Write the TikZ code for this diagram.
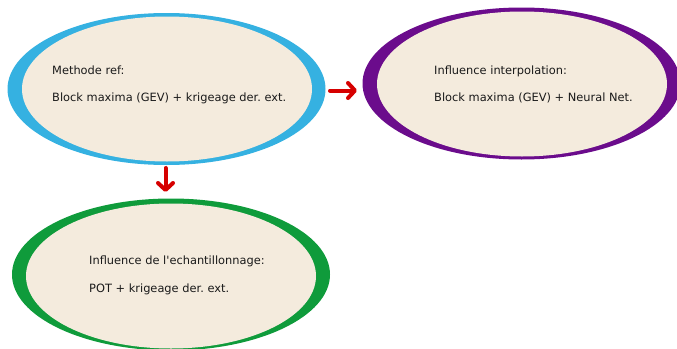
\documentclass[tikz,border=0pt]{standalone}
\usepackage{fontspec}
\setmainfont{DejaVu Sans}[Ligatures=TeXOff]
\frenchspacing
\usetikzlibrary{shapes.geometric,arrows.meta}
\definecolor{beige}{HTML}{F4EBDD}
\definecolor{cblue}{HTML}{35B1E1}
\definecolor{cpurple}{HTML}{6B0C8C}
\definecolor{cgreen}{HTML}{0F9B3B}
\definecolor{cred}{HTML}{D60000}
\definecolor{ctext}{HTML}{1A1A1A}
\tikzset{
  ring/.style={ellipse, inner sep=0pt, minimum width=318pt, minimum height=152pt},
  core/.style={ellipse, inner sep=0pt, fill=beige, minimum width=290pt, minimum height=145pt},
  lbl/.style={anchor=base west, inner sep=0pt, text=ctext, font=\fontsize{11.4}{13}\selectfont},
  arr/.style={draw=cred, line width=4pt, line cap=round, line join=round,
    -{Straight Barb[length=7pt, width=15pt, line cap=round, line join=round]}}
}
\begin{document}
\begin{tikzpicture}[x=1pt,y=-1pt]
\useasboundingbox (0,0) rectangle (677,348);
\begin{scope}
\clip (0,0) rectangle (677,348);
% rings
\node[ring, fill=cblue] (a) at (166.5,89) {};
\node[core] (ai) at (167,89) {};
\node[ring, fill=cpurple] (b) at (521.5,83.5) {};
\node[core] (bi) at (522,84) {};
\node[ring, fill=cgreen] (c) at (171,274.5) {};
\node[core] (ci) at (171,276) {};
\end{scope}
% texts
\node[lbl] (a1) at (52,74) {Methode ref:};
\node[lbl] (a2) at (52,101) {Block maxima (GEV) + krigeage der. ext.};
\node[lbl] (b1) at (434,74) {Influence interpolation:};
\node[lbl] (b2) at (434,101) {Block maxima (GEV) + Neural Net.};
\node[lbl] (c1) at (89,264) {Influence de l'echantillonnage:};
\node[lbl] (c2) at (89,292) {POT + krigeage der. ext.};
% arrows
\coordinate (p1) at (330,90.5);
\coordinate (p2) at (357,90.5);
\coordinate (q1) at (165.5,168);
\coordinate (q2) at (165.5,192);
\draw[arr] (p1) -- (p2);
\draw[arr] (q1) -- (q2);
\end{tikzpicture}
\end{document}
